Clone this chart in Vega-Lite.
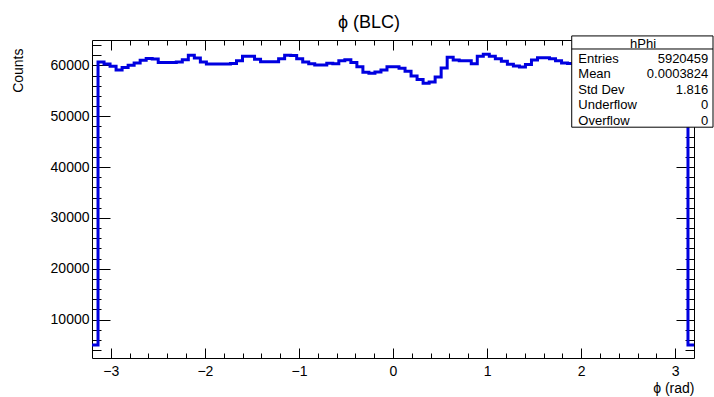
{
  "$schema": "https://vega.github.io/schema/vega-lite/v6.json",
  "autosize": "none",
  "width": 602,
  "height": 318,
  "padding": {"left": 92, "top": 40, "right": 20, "bottom": 39},
  "background": "white",
  "title": {"text": "ϕ (BLC)", "fontSize": 18, "fontWeight": "normal", "font": "Liberation Sans", "color": "black", "anchor": "middle", "frame": "group", "dx": -24, "offset": -14.5, "baseline": "bottom"},
  "config": {
    "view": {"stroke": null},
    "font": "Liberation Sans",
    "axis": {"grid": false, "labelFont": "Liberation Sans", "titleFont": "Liberation Sans", "labelColor": "black", "titleColor": "black", "tickColor": "black", "domainColor": "black", "labelFontSize": 14, "titleFontSize": 14, "titleFontWeight": "normal", "tickWidth": 1, "domainWidth": 1, "labelFlush": false, "labelOverlap": false}
  },
  "datasets": {
    "hist": [
      {"phi": -3.2, "n": 5000}, {"phi": -3.136, "n": 60650}, {"phi": -3.072, "n": 60300}, {"phi": -3.008, "n": 59830},
      {"phi": -2.944, "n": 59100}, {"phi": -2.88, "n": 59600}, {"phi": -2.816, "n": 60020}, {"phi": -2.752, "n": 60490},
      {"phi": -2.688, "n": 61020}, {"phi": -2.624, "n": 61350}, {"phi": -2.56, "n": 61280}, {"phi": -2.496, "n": 60550},
      {"phi": -2.432, "n": 60570}, {"phi": -2.368, "n": 60570}, {"phi": -2.304, "n": 60680}, {"phi": -2.24, "n": 61120},
      {"phi": -2.176, "n": 62000}, {"phi": -2.112, "n": 61450}, {"phi": -2.048, "n": 60670}, {"phi": -1.984, "n": 60280},
      {"phi": -1.92, "n": 60280}, {"phi": -1.856, "n": 60280}, {"phi": -1.792, "n": 60280}, {"phi": -1.728, "n": 60400},
      {"phi": -1.664, "n": 60900}, {"phi": -1.6, "n": 61800}, {"phi": -1.536, "n": 61800}, {"phi": -1.472, "n": 61230},
      {"phi": -1.408, "n": 60740}, {"phi": -1.344, "n": 60740}, {"phi": -1.28, "n": 60740}, {"phi": -1.216, "n": 61330},
      {"phi": -1.152, "n": 61990}, {"phi": -1.088, "n": 61960}, {"phi": -1.024, "n": 61330}, {"phi": -0.96, "n": 60680},
      {"phi": -0.896, "n": 60320}, {"phi": -0.832, "n": 60070}, {"phi": -0.768, "n": 60090}, {"phi": -0.704, "n": 60420},
      {"phi": -0.64, "n": 60350}, {"phi": -0.576, "n": 60900}, {"phi": -0.512, "n": 61100}, {"phi": -0.448, "n": 60550},
      {"phi": -0.384, "n": 59720}, {"phi": -0.32, "n": 58670}, {"phi": -0.256, "n": 58450}, {"phi": -0.192, "n": 58700},
      {"phi": -0.128, "n": 59100}, {"phi": -0.064, "n": 59750}, {"phi": 0, "n": 59750}, {"phi": 0.064, "n": 59430},
      {"phi": 0.128, "n": 58830}, {"phi": 0.192, "n": 57900}, {"phi": 0.256, "n": 57250}, {"phi": 0.32, "n": 56500},
      {"phi": 0.384, "n": 56750}, {"phi": 0.448, "n": 57740}, {"phi": 0.512, "n": 59500}, {"phi": 0.576, "n": 61630},
      {"phi": 0.64, "n": 61070}, {"phi": 0.704, "n": 60940}, {"phi": 0.768, "n": 60940}, {"phi": 0.832, "n": 60320},
      {"phi": 0.896, "n": 61820}, {"phi": 0.96, "n": 62220}, {"phi": 1.024, "n": 61800}, {"phi": 1.088, "n": 61300},
      {"phi": 1.152, "n": 60800}, {"phi": 1.216, "n": 60250}, {"phi": 1.28, "n": 59900}, {"phi": 1.344, "n": 59700},
      {"phi": 1.408, "n": 60200}, {"phi": 1.472, "n": 61050}, {"phi": 1.536, "n": 61500}, {"phi": 1.6, "n": 61500},
      {"phi": 1.664, "n": 61330}, {"phi": 1.728, "n": 60900}, {"phi": 1.792, "n": 60500}, {"phi": 1.856, "n": 60400},
      {"phi": 1.92, "n": 60700}, {"phi": 1.984, "n": 61100}, {"phi": 2.048, "n": 61300}, {"phi": 2.112, "n": 61000},
      {"phi": 2.176, "n": 60600}, {"phi": 2.24, "n": 60300}, {"phi": 2.304, "n": 60200}, {"phi": 2.368, "n": 60500},
      {"phi": 2.432, "n": 60900}, {"phi": 2.496, "n": 61200}, {"phi": 2.56, "n": 61000}, {"phi": 2.624, "n": 60600},
      {"phi": 2.688, "n": 60300}, {"phi": 2.752, "n": 60400}, {"phi": 2.816, "n": 60800}, {"phi": 2.88, "n": 61100},
      {"phi": 2.944, "n": 60900}, {"phi": 3.008, "n": 60600}, {"phi": 3.072, "n": 60500}, {"phi": 3.136, "n": 5000},
      {"phi": 3.2, "n": 5000}
    ]
  },
  "resolve": {"axis": {"x": "independent", "y": "independent"}},
  "layer": [
    {
      "data": {"name": "hist"},
      "mark": {"type": "line", "interpolate": "step-after", "color": "#0000e0", "strokeWidth": 3, "strokeJoin": "miter"},
      "encoding": {
        "x": {"field": "phi", "type": "quantitative", "scale": {"domain": [-3.2, 3.2], "nice": false, "zero": false},
              "axis": {"orient": "bottom", "values": [-3, -2, -1, 0, 1, 2, 3], "format": "d", "ticks": false, "domain": false, "labelPadding": 6,
                       "title": "ϕ (rad)", "titleX": 602, "titleY": 34, "titleAlign": "right", "titleBaseline": "alphabetic", "titleAngle": 0}},
        "y": {"field": "n", "type": "quantitative", "scale": {"domain": [2450, 65000], "nice": false, "zero": false},
              "axis": {"orient": "left", "values": [10000, 20000, 30000, 40000, 50000, 60000], "format": "d", "ticks": false, "domain": false, "labelPadding": 3,
                       "title": "Counts", "titleAngle": -90, "titleX": -74, "titleY": 8, "titleAlign": "right", "titleBaseline": "middle"}}
      }
    },
    {
      "data": {"values": [{}]},
      "mark": {"type": "rect", "fill": "white", "stroke": "black", "strokeWidth": 1},
      "encoding": {
        "x": {"datum": 1.9, "type": "quantitative", "scale": {"domain": [-3.2, 3.2], "nice": false, "zero": false},
              "axis": {"orient": "bottom", "values": [-3, -2, -1, 0, 1, 2, 3], "tickSize": -10, "labels": false, "domain": true, "title": null}},
        "x2": {"datum": 3.402},
        "y": {"datum": 65800, "type": "quantitative", "scale": {"domain": [2450, 65000], "nice": false, "zero": false},
              "axis": {"orient": "left", "values": [10000, 20000, 30000, 40000, 50000, 60000], "tickSize": -18, "labels": false, "domain": true, "title": null}},
        "y2": {"datum": 47850}
      }
    },
    {
      "data": {"values": [{}]},
      "mark": {"type": "rule", "stroke": "black", "strokeWidth": 1},
      "encoding": {
        "x": {"datum": 1.9, "type": "quantitative", "scale": {"domain": [-3.2, 3.2], "nice": false, "zero": false},
              "axis": {"orient": "bottom", "values": [-3, -2.8, -2.6, -2.4, -2.2, -2, -1.8, -1.6, -1.4, -1.2, -1, -0.8, -0.6, -0.4, -0.2, 0, 0.2, 0.4, 0.6, 0.8, 1, 1.2, 1.4, 1.6, 1.8, 2, 2.2, 2.4, 2.6, 2.8, 3], "tickSize": -5, "labels": false, "domain": false, "title": null}},
        "x2": {"datum": 3.402},
        "y": {"datum": 63230, "type": "quantitative", "scale": {"domain": [2450, 65000], "nice": false, "zero": false},
              "axis": {"orient": "left", "values": [4000, 6000, 8000, 10000, 12000, 14000, 16000, 18000, 20000, 22000, 24000, 26000, 28000, 30000, 32000, 34000, 36000, 38000, 40000, 42000, 44000, 46000, 48000, 50000, 52000, 54000, 56000, 58000, 60000, 62000, 64000], "tickSize": -9, "labels": false, "domain": false, "title": null}}
      }
    },
    {
      "data": {"values": [{}]},
      "mark": {"type": "text", "text": "hPhi", "align": "center", "baseline": "middle", "fontSize": 13, "font": "Liberation Sans", "color": "black"},
      "encoding": {
        "x": {"datum": 2.658, "type": "quantitative", "scale": {"domain": [-3.2, 3.2], "nice": false, "zero": false},
              "axis": {"orient": "top", "values": [-3, -2, -1, 0, 1, 2, 3], "tickSize": -10, "labels": false, "domain": true, "title": null}},
        "y": {"datum": 64220, "type": "quantitative", "scale": {"domain": [2450, 65000], "nice": false, "zero": false},
              "axis": {"orient": "right", "values": [10000, 20000, 30000, 40000, 50000, 60000], "tickSize": -18, "labels": false, "domain": true, "title": null}}
      }
    },
    {
      "data": {"values": [{}]},
      "mark": {"type": "text", "text": ["Entries", "Mean", "Std Dev", "Underflow", "Overflow"], "align": "left", "baseline": "top", "lineHeight": 15.5, "fontSize": 13, "font": "Liberation Sans", "color": "black"},
      "encoding": {
        "x": {"datum": 1.97, "type": "quantitative", "scale": {"domain": [-3.2, 3.2], "nice": false, "zero": false},
              "axis": {"orient": "top", "values": [-3, -2.8, -2.6, -2.4, -2.2, -2, -1.8, -1.6, -1.4, -1.2, -1, -0.8, -0.6, -0.4, -0.2, 0, 0.2, 0.4, 0.6, 0.8, 1, 1.2, 1.4, 1.6, 1.8, 2, 2.2, 2.4, 2.6, 2.8, 3], "tickSize": -5, "labels": false, "domain": false, "title": null}},
        "y": {"datum": 62500, "type": "quantitative", "scale": {"domain": [2450, 65000], "nice": false, "zero": false},
              "axis": {"orient": "right", "values": [4000, 6000, 8000, 10000, 12000, 14000, 16000, 18000, 20000, 22000, 24000, 26000, 28000, 30000, 32000, 34000, 36000, 38000, 40000, 42000, 44000, 46000, 48000, 50000, 52000, 54000, 56000, 58000, 60000, 62000, 64000], "tickSize": -9, "labels": false, "domain": false, "title": null}}
      }
    },
    {
      "data": {"values": [{}]},
      "mark": {"type": "text", "text": ["5920459", "0.0003824", "1.816", "0", "0"], "align": "right", "baseline": "top", "lineHeight": 15.5, "fontSize": 13, "font": "Liberation Sans", "color": "black"},
      "encoding": {
        "x": {"datum": 3.352, "type": "quantitative", "scale": {"domain": [-3.2, 3.2], "nice": false, "zero": false}, "axis": null},
        "y": {"datum": 62500, "type": "quantitative", "scale": {"domain": [2450, 65000], "nice": false, "zero": false}, "axis": null}
      }
    }
  ]
}
